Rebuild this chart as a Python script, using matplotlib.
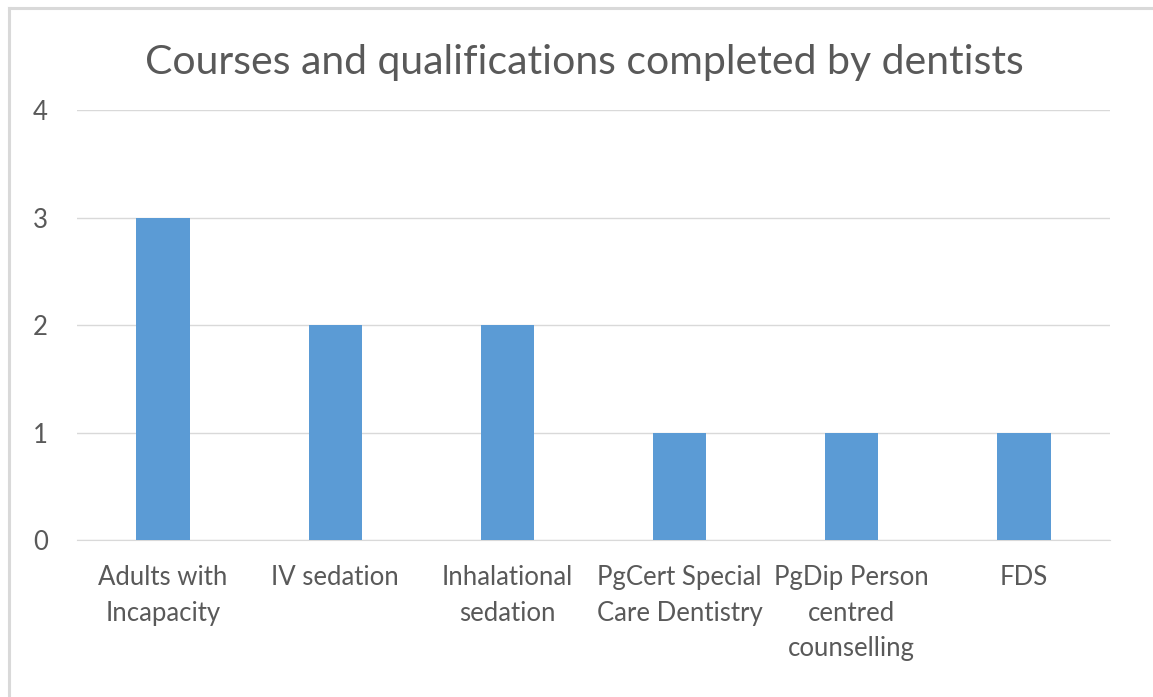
import matplotlib.pyplot as plt
from matplotlib.lines import Line2D

# data
courses = ["Adults with\nIncapacity", "IV sedation", "Inhalational\nsedation",
           "PgCert Special\nCare Dentistry", "PgDip Person\ncentred\ncounselling", "FDS"]
counts = [3, 2, 2, 1, 1, 1]
y_ticks = [0, 1, 2, 3, 4]

text_grey = "#595959"
plt.rcParams['font.family'] = ['Lato', 'DejaVu Sans']

fig = plt.figure(figsize=(11.53, 6.97), dpi=100)
ax = fig.add_axes([0.0668, 0.2253, 0.8959, 0.6167])

x = range(len(courses))
ax.bar(x, counts, width=0.31, color="#5B9BD5", zorder=3)

ax.set_xlim(-0.5, len(courses) - 0.5)
ax.set_ylim(0, 4)
ax.set_yticks(y_ticks)
ax.set_xticks(list(x))
ax.set_xticklabels(courses, linespacing=1.53)
ax.tick_params(axis='x', length=0, pad=18, labelsize=18.5, labelcolor=text_grey)
ax.tick_params(axis='y', length=0, pad=21, labelsize=18.5, labelcolor=text_grey)

ax.grid(axis='y', color="#d9d9d9", linewidth=1, zorder=0)
for side in ['top', 'right', 'left']:
    ax.spines[side].set_visible(False)
ax.spines['bottom'].set_color("#d9d9d9")

fig.text(0.507, 0.911, "Courses and qualifications completed by dentists",
         ha='center', va='center', fontsize=29.5, color=text_grey)

# light frame on the top and left edge, as in the exported chart
fig.add_artist(Line2D([0.0075, 1.0], [0.9885, 0.9885], transform=fig.transFigure,
                      color="#d9d9d9", linewidth=2.2))
fig.add_artist(Line2D([0.0075, 0.0075], [0.0, 0.9885], transform=fig.transFigure,
                      color="#d9d9d9", linewidth=2.2))

fig.savefig("out.png", dpi=100)
